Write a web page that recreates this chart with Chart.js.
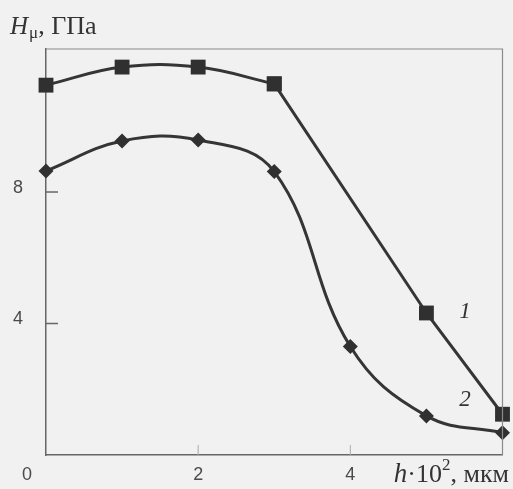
<!DOCTYPE html>
<html>
<head>
<meta charset="utf-8">
<script src="https://cdn.jsdelivr.net/npm/chart.js@4"></script>
<style>
html,body{margin:0;padding:0;background:#f1f1f1;}
canvas{display:block;}
</style>
</head>
<body>
<canvas id="c" width="513" height="489"></canvas>
<script>
const xValues = [0, 1, 2, 3, 4, 5, 6];
const series1 = [11.25, 11.8, 11.8, 11.29, null, 4.32, 1.24];
const series2 = [8.64, 9.55, 9.58, 8.62, 3.30, 1.19, 0.68];
const yTicks = [4, 8];
const xTicks = [2, 4];
const originLabel = '0';
const curveLabels = ['1', '2'];
// curve 1 is smooth up to x = 3, straight segments afterwards
const series1BreakX = 3;

const toPts = arr => xValues.map((x, i) => ({x: x, y: arr[i]})).filter(p => p.y !== null);
const s1Pts = toPts(series1);
const s1Curved = s1Pts.filter(p => p.x <= series1BreakX);
const s1Straight = s1Pts.filter(p => p.x >= series1BreakX);

const decor = {
  id: 'decor',
  beforeDraw(chart) {
    const ctx = chart.ctx;
    ctx.save();
    ctx.fillStyle = '#f1f1f1';
    ctx.fillRect(0, 0, chart.width, chart.height);
    ctx.restore();
  },
  afterDraw(chart) {
    const ctx = chart.ctx;
    const a = chart.chartArea;
    const xs = chart.scales.x, ys = chart.scales.y;
    ctx.save();
    // top & right frame
    ctx.strokeStyle = '#8a8a8a';
    ctx.lineWidth = 1.2;
    ctx.beginPath();
    ctx.moveTo(a.left, a.top);
    ctx.lineTo(a.right, a.top);
    ctx.lineTo(a.right, a.bottom);
    ctx.stroke();
    // inward ticks
    ctx.strokeStyle = '#666';
    ctx.lineWidth = 1.5;
    yTicks.forEach(v => {
      const y = ys.getPixelForValue(v);
      ctx.beginPath(); ctx.moveTo(a.left, y); ctx.lineTo(a.left + 12, y); ctx.stroke();
    });
    ctx.strokeStyle = '#aaa';
    ctx.lineWidth = 1;
    xTicks.forEach(v => {
      const x = xs.getPixelForValue(v);
      ctx.beginPath(); ctx.moveTo(x, a.bottom); ctx.lineTo(x, a.bottom - 10); ctx.stroke();
    });
    // tick labels
    ctx.fillStyle = '#4a4a4a';
    ctx.font = '18px "Liberation Sans", Arial, sans-serif';
    ctx.textAlign = 'center';
    ctx.textBaseline = 'middle';
    yTicks.forEach(v => {
      ctx.fillText(String(v), 18, ys.getPixelForValue(v) - 4);
    });
    xTicks.forEach(v => {
      ctx.fillText(String(v), xs.getPixelForValue(v), 475);
    });
    ctx.fillText(originLabel, 27, 475);

    // y-axis title: Hμ, ГПа
    ctx.textAlign = 'left';
    ctx.textBaseline = 'alphabetic';
    ctx.fillStyle = '#333';
    let x = 10;
    ctx.font = 'italic 25px "Liberation Serif", "Times New Roman", serif';
    ctx.fillText('H', x, 34); x += ctx.measureText('H').width + 1;
    ctx.font = '17px "Liberation Serif", "Times New Roman", serif';
    ctx.fillText('\u03bc', x, 38); x += ctx.measureText('\u03bc').width;
    ctx.font = '26px "Liberation Serif", "Times New Roman", serif';
    ctx.fillText(', \u0413\u041f\u0430', x, 34);

    // x-axis title: h·10², мкм (right aligned)
    const fI = 'italic 27px "Liberation Serif", "Times New Roman", serif';
    const fR = '26px "Liberation Serif", "Times New Roman", serif';
    const fS = '17px "Liberation Serif", "Times New Roman", serif';
    const parts = [[fI, 'h', 0], [fR, '\u00b710', 0], [fS, '2', -12], [fR, ', \u043c\u043a\u043c', 0]];
    let total = 0;
    parts.forEach(p => { ctx.font = p[0]; total += ctx.measureText(p[1]).width; });
    x = 509 - total;
    parts.forEach(p => { ctx.font = p[0]; ctx.fillText(p[1], x, 482 + p[2]); x += ctx.measureText(p[1]).width; });

    // curve labels
    ctx.font = 'italic 23px "Liberation Serif", "Times New Roman", serif';
    ctx.textAlign = 'center';
    ctx.textBaseline = 'middle';
    ctx.fillText(curveLabels[0], 465, 312);
    ctx.fillText(curveLabels[1], 465, 400);
    ctx.restore();
  }
};

const lineStyle = {
  borderColor: '#353535',
  backgroundColor: '#303030',
  borderWidth: 3,
  pointBorderWidth: 0,
  clip: false
};

new Chart(document.getElementById('c'), {
  type: 'line',
  data: {
    datasets: [
      Object.assign({label: '1', data: s1Curved, pointStyle: 'rect', pointRadius: 10.5, tension: 0.4}, lineStyle),
      Object.assign({label: '1 (tail)', data: s1Straight, pointStyle: 'rect', pointRadius: 10.5, tension: 0}, lineStyle),
      Object.assign({label: '2', data: toPts(series2), pointStyle: 'rectRot', pointRadius: 7.5, tension: 0.4}, lineStyle)
    ]
  },
  options: {
    responsive: false,
    animation: false,
    devicePixelRatio: 1,
    layout: {padding: {top: 49, right: 4, left: 0, bottom: 0}},
    plugins: {legend: {display: false}, tooltip: {enabled: false}},
    scales: {
      x: {
        type: 'linear', min: 0, max: 6,
        ticks: {display: false},
        grid: {display: false, drawTicks: false},
        border: {display: true, color: '#666', width: 1.5},
        afterFit: s => { s.height = 34; }
      },
      y: {
        min: 0, max: 12.35,
        ticks: {display: false},
        grid: {display: false, drawTicks: false},
        border: {display: true, color: '#666', width: 1.5},
        afterFit: s => { s.width = 46; }
      }
    }
  },
  plugins: [decor]
});
</script>
</body>
</html>
